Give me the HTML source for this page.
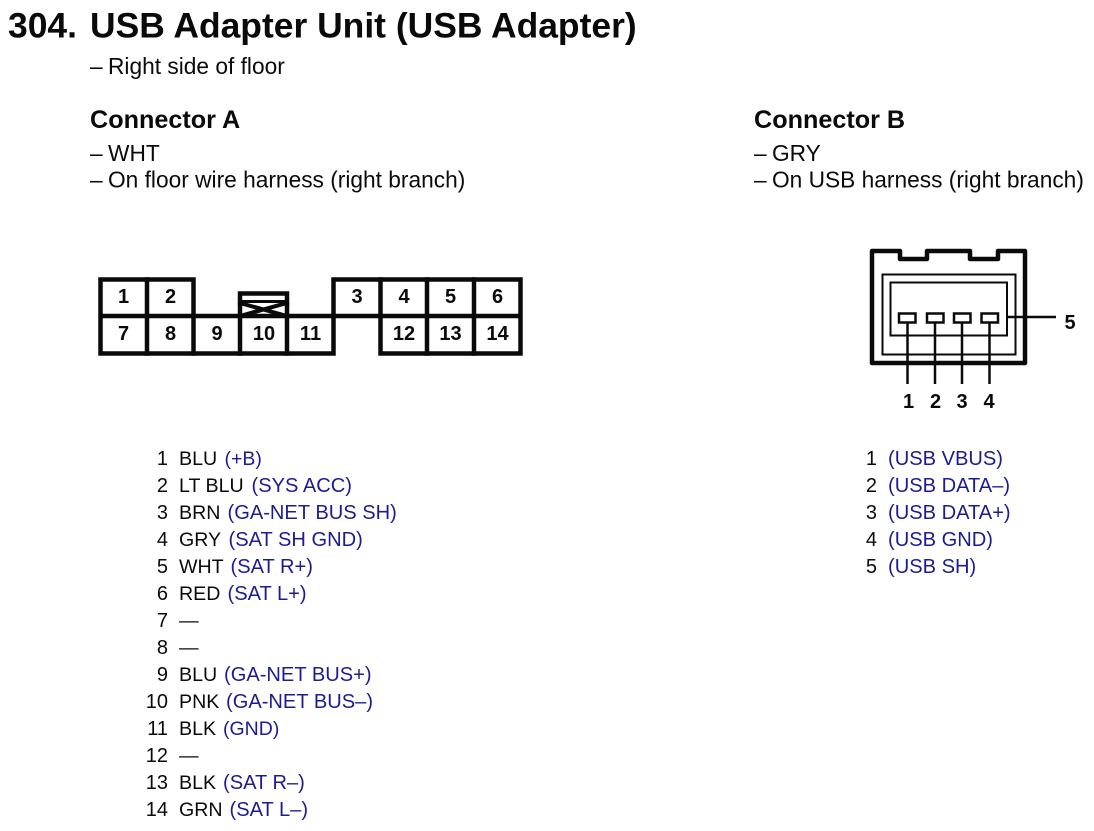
<!DOCTYPE html>
<html><head><meta charset="utf-8"><style>
html,body{margin:0;padding:0;background:#fff}
svg{display:block}
text{font-family:"Liberation Sans",Arial,sans-serif;fill:#0a0a0a}
.t{font-size:35.45px;font-weight:bold}
.h{font-size:25.2px;font-weight:bold}
.b{font-size:22.72px}
.n{font-size:20px;text-anchor:end}
.c{font-size:19.6px}
.u{font-size:20.1px;fill:#1c1c90}
.s{font-size:19.5px}
.p{font-size:20px;font-weight:bold;text-anchor:middle}
</style></head><body>
<svg width="1094" height="831" viewBox="0 0 1094 831" xmlns="http://www.w3.org/2000/svg">
<text class="t" x="8" y="37.500">304.</text>
<text class="t" x="90" y="37.500">USB Adapter Unit (USB Adapter)</text>
<text class="b" x="90" y="74">–</text><text class="b" x="108" y="74">Right side of floor</text>
<text class="h" x="90" y="128">Connector A</text>
<text class="b" x="90" y="161">–</text><text class="b" x="108" y="161">WHT</text>
<text class="b" x="90" y="187.500">–</text><text class="b" x="108" y="187.500">On floor wire harness (right branch)</text>
<text class="h" x="754" y="128">Connector B</text>
<text class="b" x="754" y="161">–</text><text class="b" x="772" y="161">GRY</text>
<text class="b" x="754" y="187.500">–</text><text class="b" x="772" y="187.500">On USB harness (right branch)</text>

<g fill="none" stroke="#0a0a0a" stroke-width="4.500" stroke-linecap="square">
<path d="M100.500 279.500H193.500V316M100.500 279.500V353.500H333.500V279.500H520.500V353.500H380.500V316M100.500 316H520.500"/>
<path d="M147 279.500V353.500M240 293.500H287V353.500M240 293.500V353.500M193.500 316V353.500M427 279.500V353.500M474 279.500V353.500M380.500 279.500V316"/>
<path d="M240 301.500H287" stroke-width="3"/>
<path d="M240 303L287 316M287 303L240 316" stroke-width="4"/>
</g>
<g>
<text class="p" x="123.500" y="303">1</text><text class="p" x="170.500" y="303">2</text><text class="p" x="357" y="303">3</text><text class="p" x="404" y="303">4</text><text class="p" x="450.500" y="303">5</text><text class="p" x="497.500" y="303">6</text>
<text class="p" x="123.500" y="340">7</text><text class="p" x="170.500" y="340">8</text><text class="p" x="217" y="340">9</text><text class="p" x="264" y="340">10</text><text class="p" x="310.500" y="340">11</text><text class="p" x="404" y="340">12</text><text class="p" x="450.500" y="340">13</text><text class="p" x="497.500" y="340">14</text>
</g>

<g fill="none" stroke="#0a0a0a">
<path stroke-width="4.500" stroke-linejoin="round" d="M872 251H900V259H927V251H970V259H998V251H1025V363H872Z"/>
<rect x="882.500" y="274.500" width="133" height="80" stroke-width="2"/>
<rect x="890.500" y="282.500" width="116.500" height="53" stroke-width="2"/>
<rect x="899" y="313.500" width="16.500" height="9" stroke-width="2.500"/>
<rect x="927" y="313.500" width="16.500" height="9" stroke-width="2.500"/>
<rect x="954" y="313.500" width="16.500" height="9" stroke-width="2.500"/>
<rect x="981.500" y="313.500" width="16.500" height="9" stroke-width="2.500"/>
<path stroke-width="2.500" d="M907.500 322V384M935 322V384M962 322V384M989.500 322V384M1007 317H1056"/>
</g>
<text class="p" x="908.500" y="408">1</text><text class="p" x="935.500" y="408">2</text><text class="p" x="962" y="408">3</text><text class="p" x="989" y="408">4</text><text class="p" x="1070" y="329">5</text>

<text class="n" x="168" y="465">1</text><text class="c" x="179" y="465">BLU</text><text class="u s" x="224.500" y="465">(+B)</text>
<text class="n" x="168" y="492">2</text><text class="c" x="179" y="492">LT BLU</text><text class="u" x="251.500" y="492">(SYS ACC)</text>
<text class="n" x="168" y="519">3</text><text class="c" x="179" y="519">BRN</text><text class="u" x="227.500" y="519">(GA-NET BUS SH)</text>
<text class="n" x="168" y="546">4</text><text class="c" x="179" y="546">GRY</text><text class="u" x="228.500" y="546">(SAT SH GND)</text>
<text class="n" x="168" y="573">5</text><text class="c" x="179" y="573">WHT</text><text class="u" x="230.500" y="573">(SAT R+)</text>
<text class="n" x="168" y="600">6</text><text class="c" x="179" y="600">RED</text><text class="u" x="227.500" y="600">(SAT L+)</text>
<text class="n" x="168" y="627">7</text><text class="c" x="179" y="627">—</text>
<text class="n" x="168" y="654">8</text><text class="c" x="179" y="654">—</text>
<text class="n" x="168" y="681">9</text><text class="c" x="179" y="681">BLU</text><text class="u" x="224" y="681">(GA-NET BUS+)</text>
<text class="n" x="168" y="708">10</text><text class="c" x="179" y="708">PNK</text><text class="u" x="226" y="708">(GA-NET BUS–)</text>
<text class="n" x="168" y="735">11</text><text class="c" x="179" y="735">BLK</text><text class="u s" x="223" y="735">(GND)</text>
<text class="n" x="168" y="762">12</text><text class="c" x="179" y="762">—</text>
<text class="n" x="168" y="789">13</text><text class="c" x="179" y="789">BLK</text><text class="u" x="223" y="789">(SAT R–)</text>
<text class="n" x="168" y="816">14</text><text class="c" x="179" y="816">GRN</text><text class="u" x="229.500" y="816">(SAT L–)</text>

<text class="n" x="877" y="465">1</text><text class="u" x="888" y="465">(USB VBUS)</text>
<text class="n" x="877" y="492">2</text><text class="u" x="888" y="492">(USB DATA–)</text>
<text class="n" x="877" y="519">3</text><text class="u" x="888" y="519">(USB DATA+)</text>
<text class="n" x="877" y="546">4</text><text class="u" x="888" y="546">(USB GND)</text>
<text class="n" x="877" y="573">5</text><text class="u" x="888" y="573">(USB SH)</text>
</svg>
</body></html>
